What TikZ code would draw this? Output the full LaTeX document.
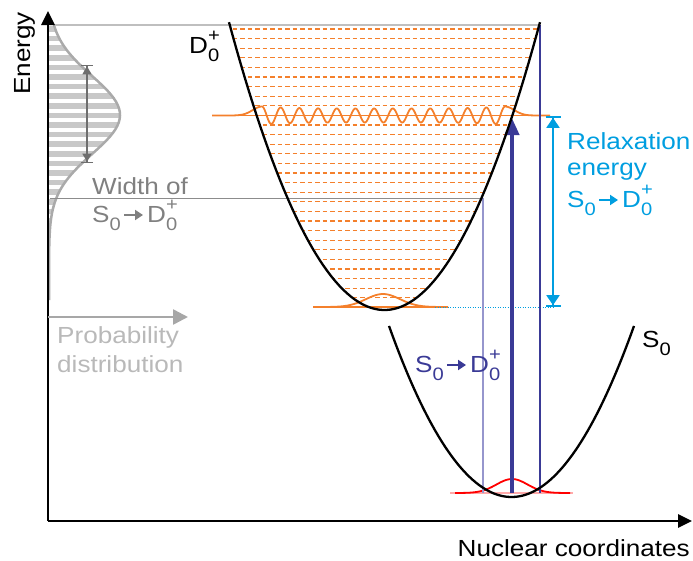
\documentclass[tikz,border=0pt]{standalone}
\usepackage{fontspec}
\setmainfont[FakeStretch=1.12]{Liberation Sans}
\usepackage{tikz}
\usetikzlibrary{arrows.meta,positioning}
\definecolor{levelorange}{RGB}{244,128,44}
\definecolor{transblue}{RGB}{58,58,150}
\definecolor{paleblue}{RGB}{150,150,205}
\definecolor{relaxcyan}{RGB}{0,158,224}
\definecolor{stripegray}{RGB}{200,200,200}
\definecolor{curvegray}{RGB}{170,170,170}
\definecolor{textgray}{RGB}{128,128,128}
\definecolor{probgray}{RGB}{185,185,185}
\definecolor{palered}{RGB}{255,170,170}

\newcommand{\idx}[1]{\raisebox{-0.38em}{\fontsize{18}{18}\selectfont #1}}
\newcommand{\chg}[1]{\raisebox{0.5em}{\fontsize{18}{18}\selectfont #1}}
\newcommand{\Sgs}{S\idx{0}}
\newcommand{\Dion}{D\rlap{\chg{+}}\idx{0}}
\newcommand{\toarrow}{\kern2pt\tikz[baseline=0pt]\draw[line width=2.4pt,-{Triangle[length=8pt,width=10pt]}] (0pt,7pt)--(19pt,7pt);\kern3pt}

\begin{document}
\begin{tikzpicture}[x=1pt,y=-1pt,
axis/.style={line width=2.6pt,-{Triangle[length=14pt,width=13pt]}},
level/.style={draw=levelorange,line width=1.2pt,dash pattern=on 4.5pt off 3pt},
wave/.style={draw=levelorange,line width=1.8pt},
well/.style={line width=2.3pt},
widtharrow/.style={draw=black!57,line width=1.3pt,
{Bar[width=12pt]Triangle[length=8pt,width=9pt]}-{Triangle[length=8pt,width=9pt]Bar[width=12pt]}},
relaxarrow/.style={draw=relaxcyan,line width=1.8pt,
{Bar[width=15pt]Triangle[length=10pt,width=13pt]}-{Triangle[length=10pt,width=13pt]Bar[width=15pt]}},
lbl/.style={font=\fontsize{23.3}{26}\selectfont,inner sep=0pt,align=left}]
\useasboundingbox (0,0) rectangle (693,560);

% stripes under the distribution
\begin{scope}
\clip (49,25) -- plot[domain=25:300,samples=80] ({49+71*exp(-0.5*((\x-115)/39)^2)},\x) -- (49,300) -- cycle;
\foreach \k in {0,...,28}
  \draw[stripegray,line width=5.5pt] (49,{29+9.6*\k}) -- (125,{29+9.6*\k});
\end{scope}
\draw[curvegray,line width=2.5pt] plot[domain=25:300,samples=80] ({49+71*exp(-0.5*((\x-115)/39)^2)},\x);

% guide lines
\coordinate (topl) at (55,25);
\coordinate (topr) at (540,25);
\coordinate (midl) at (50,198);
\coordinate (midr) at (483,198);
\draw[black!25,line width=1.8pt] (topl) -- (topr);
\draw[black!45,line width=0.9pt] (midl) -- (midr);

% width arrow
\coordinate (wtop) at (87,65);
\coordinate (wbot) at (87,163);
\draw[widtharrow] (wtop) -- (wbot);

% vibrational levels of the cation
\begin{scope}
\clip plot[domain=229:540,samples=60] (\x,{310-(0.1091*(\x-384.5))^2}) -- cycle;
\foreach \k in {0,...,8,10,11,...,28}
  \draw[level] (225,{29+9.6*\k}) -- (545,{29+9.6*\k});
\end{scope}

% excited wavefunction
\draw[levelorange,line width=1.2pt] (213,115.5) -- (545,115.5);
\draw[wave] plot[domain=212:262,samples=30] (\x,{115.5-9*exp(-1*((\x-262)/13)^2)})
 -- plot[domain=262:505,samples=400] (\x,{115.5-(7+2*((\x-383.5)/121.5)^4)*cos((\x-262)*19.262)})
 -- plot[domain=505:550,samples=30] (\x,{115.5-9*exp(-1*((\x-505)/13)^2)});

% ground wavefunction of the cation
\draw[levelorange,line width=1.2pt] (313,307) -- (435,307);
\draw[wave] plot[domain=318:448,samples=60] (\x,{307-13*exp(-1*((\x-383)/24)^2)});
\coordinate (dotl) at (435,307);
\coordinate (dotr) at (555,307);
\draw[relaxcyan,line width=0.8pt,dash pattern=on 1pt off 1.5pt] (dotl) -- (dotr);

% ground wavefunction of the neutral
\draw[palered,line width=2pt] (450,493) -- (573,493);
\draw[red,line width=1.8pt] plot[domain=455:570,samples=60] (\x,{493-14*exp(-1*((\x-512)/22)^2)});

% transitions
\coordinate (lowl) at (483,493);
\coordinate (lowm) at (512,493);
\coordinate (lowr) at (540,493);
\coordinate (vert) at (512,118);
\draw[paleblue,line width=1.3pt] (midr) -- (lowl);
\draw[transblue,line width=1.2pt] (topr) -- (lowr);
\draw[transblue,line width=4pt,-{Triangle[length=17pt,width=14pt]}] (lowm) -- (vert);

% relaxation energy
\coordinate (rtop) at (553,116);
\coordinate (rbot) at (553,307);
\draw[relaxarrow] (rtop) -- (rbot);

% potential curves
\draw[well] plot[domain=229:540,samples=80] (\x,{310-(0.1091*(\x-384.5))^2});
\draw[well] plot[domain=389:634,samples=80] (\x,{497-(0.10677*(\x-511.5))^2});

% axes
\coordinate (origin) at (48,521);
\coordinate (etop) at (48,11);
\coordinate (qend) at (692,521);
\draw[axis] (origin) -- (etop);
\draw[axis] (origin) -- (qend);
\coordinate (pstart) at (48,317);
\coordinate (pend) at (188,317);
\draw[probgray!90!black,line width=2.6pt,-{Triangle[length=15pt,width=15pt]}] (pstart) -- (pend);

% labels
\node[lbl,anchor=base west,rotate=90] (energylbl) at (30,95) {Energy};
\node[lbl,anchor=base east] (coordlbl) at (690,556) {Nuclear coordinates};
\node[lbl,anchor=base west] (dlbl) at (189,53) {\Dion};
\node[lbl,anchor=base west] (slbl) at (642,347) {\Sgs};
\node[lbl,anchor=base west,text=textgray] (widthlbl) at (92,222) {Width of\\[2pt]\Sgs\toarrow\Dion};
\node[lbl,anchor=base west,text=probgray] (problbl) at (57,372) {Probability\\[3pt]distribution};
\node[lbl,anchor=base west,text=transblue] (translbl) at (415,372) {\Sgs\toarrow\Dion};
\node[lbl,anchor=base west,text=relaxcyan] (relaxlbl) at (567,207) {Relaxation\\energy\\[4pt]\Sgs\toarrow\Dion};
\end{tikzpicture}
\end{document}
